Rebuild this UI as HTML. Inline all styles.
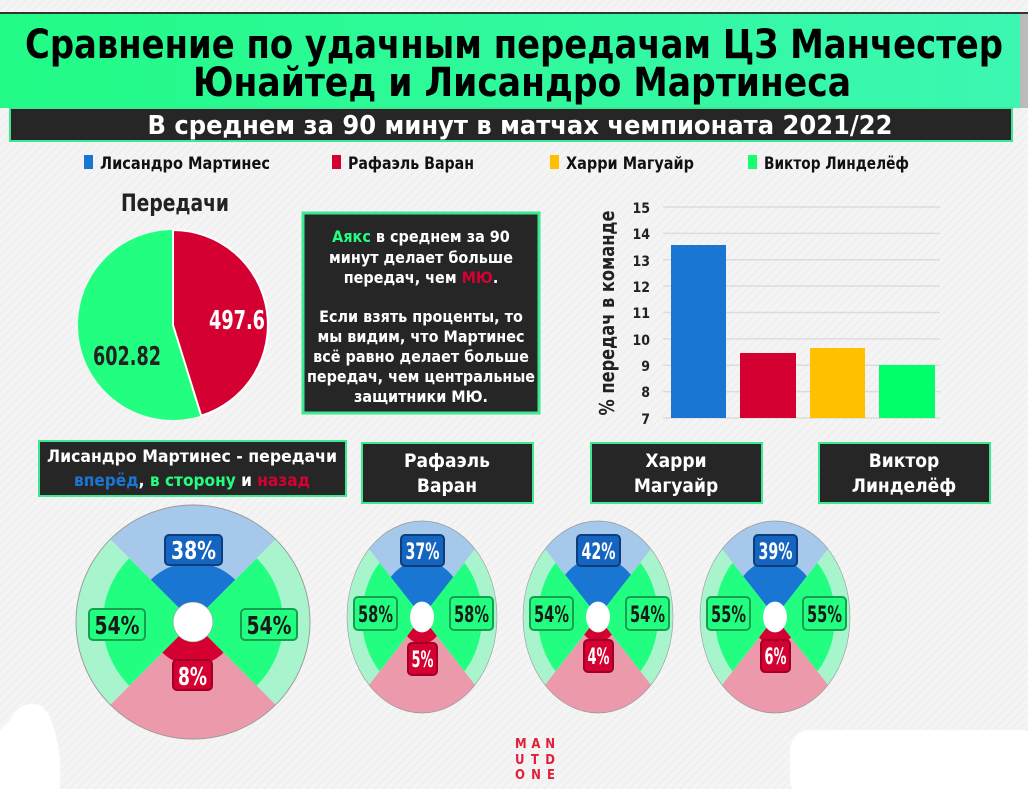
<!DOCTYPE html>
<html><head><meta charset="utf-8"><style>
html,body{margin:0;padding:0;}
body{width:1028px;height:789px;overflow:hidden;background:#f3f3f3;}
svg{display:block;}
text{font-family:"Liberation Sans Narrow","DejaVu Sans Condensed","Liberation Sans",sans-serif;font-weight:bold;}
</style></head><body>
<svg width="1028" height="789" viewBox="0 0 1028 789" xmlns="http://www.w3.org/2000/svg">
<defs>
<pattern id="hatch" width="6" height="6" patternUnits="userSpaceOnUse" patternTransform="rotate(45)">
<rect width="6" height="6" fill="#f4f4f4"/><line x1="0" y1="0" x2="0" y2="6" stroke="#ececec" stroke-width="2"/>
</pattern>
<linearGradient id="hg" x1="0" x2="1" y1="0" y2="0"><stop offset="0" stop-color="#22fb86"/><stop offset="1" stop-color="#3cf7b2"/></linearGradient>
<g id="outer">
<path d="M0 0L-70.71 -70.71A100 100 0 0 1 70.71 -70.71Z" fill="#a6c8ea"/>
<path d="M0 0L70.71 -70.71A100 100 0 0 1 70.71 70.71Z" fill="#a8f5cd"/>
<path d="M0 0L70.71 70.71A100 100 0 0 1 -70.71 70.71Z" fill="#ec9aab"/>
<path d="M0 0L-70.71 70.71A100 100 0 0 1 -70.71 -70.71Z" fill="#a8f5cd"/>
<circle r="100" fill="none" stroke="#999" stroke-width="0.8"/>
</g>
</defs>
<rect width="1028" height="789" fill="url(#hatch)"/>
<path d="M10 720 Q20 700 40 705 Q55 715 60 760 L60 789 L0 789 L0 730Z" fill="#fff"/>
<rect x="790" y="730" width="250" height="70" rx="20" fill="#fff"/>

<rect x="0" y="12" width="1028" height="3" fill="#333"/>
<rect x="0" y="14" width="1022" height="94" fill="url(#hg)"/>
<rect x="1020" y="14" width="8" height="94" fill="#bbb"/>
<text x="514" y="58" text-anchor="middle" font-size="40" fill="#000" textLength="978" lengthAdjust="spacingAndGlyphs">Сравнение по удачным передачам ЦЗ Манчестер</text>
<text x="522" y="96" text-anchor="middle" font-size="40" fill="#000" textLength="658" lengthAdjust="spacingAndGlyphs">Юнайтед и Лисандро Мартинеса</text>
<rect x="10" y="108" width="1002" height="33" fill="#262626" stroke="#3de890" stroke-width="2"/>
<text x="520" y="134" text-anchor="middle" font-size="26" fill="#fff" textLength="745" lengthAdjust="spacingAndGlyphs">В среднем за 90 минут в матчах чемпионата 2021/22</text>

<rect x="84" y="155" width="9" height="14" fill="#1976d2"/>
<text x="100" y="169" font-size="17" fill="#111" textLength="170" lengthAdjust="spacingAndGlyphs">Лисандро Мартинес</text>
<rect x="332" y="155" width="9" height="14" fill="#d50032"/>
<text x="348" y="169" font-size="17" fill="#111" textLength="126" lengthAdjust="spacingAndGlyphs">Рафаэль Варан</text>
<rect x="550" y="155" width="9" height="14" fill="#ffc000"/>
<text x="566" y="169" font-size="17" fill="#111" textLength="128" lengthAdjust="spacingAndGlyphs">Харри Магуайр</text>
<rect x="748" y="155" width="9" height="14" fill="#18ff6d"/>
<text x="764" y="169" font-size="17" fill="#111" textLength="145" lengthAdjust="spacingAndGlyphs">Виктор Линделёф</text>

<text x="175" y="211" text-anchor="middle" font-size="24" fill="#222" textLength="108" lengthAdjust="spacingAndGlyphs">Передачи</text>
<circle cx="173" cy="325" r="95" fill="#22ff80"/>
<path d="M173 325 L173 230 A95 95 0 0 1 201.2 415.7 Z" fill="#d50032" stroke="#fff" stroke-width="2"/>
<text x="237" y="329" text-anchor="middle" font-size="26" fill="#fff" textLength="56" lengthAdjust="spacingAndGlyphs">497.6</text>
<text x="127" y="365" text-anchor="middle" font-size="26" fill="#222" textLength="68" lengthAdjust="spacingAndGlyphs">602.82</text>

<rect x="303" y="213" width="236" height="200" fill="#262626" stroke="#3de890" stroke-width="3"/>
<g font-size="16" fill="#fff" text-anchor="middle">
<text x="421" y="242"><tspan fill="#22ff80">Аякс</tspan> в среднем за 90</text>
<text x="421" y="263">минут делает больше</text>
<text x="421" y="283">передач, чем <tspan fill="#d50032">МЮ</tspan>.</text>
<text x="421" y="322">Если взять проценты, то</text>
<text x="421" y="342">мы видим, что Мартинес</text>
<text x="421" y="362">всё равно делает больше</text>
<text x="421" y="382" textLength="228" lengthAdjust="spacingAndGlyphs">передач, чем центральные</text>
<text x="421" y="402">защитники МЮ.</text>
</g>

<g stroke="#dcdcdc" stroke-width="1.5">
<line x1="663" y1="207" x2="940" y2="207"/><line x1="663" y1="233.4" x2="940" y2="233.4"/>
<line x1="663" y1="259.8" x2="940" y2="259.8"/><line x1="663" y1="286.1" x2="940" y2="286.1"/>
<line x1="663" y1="312.5" x2="940" y2="312.5"/><line x1="663" y1="338.9" x2="940" y2="338.9"/>
<line x1="663" y1="365.3" x2="940" y2="365.3"/><line x1="663" y1="391.6" x2="940" y2="391.6"/>
<line x1="663" y1="418" x2="940" y2="418"/>
</g>
<g font-size="14" fill="#222" text-anchor="end">
<text x="650" y="213">15</text><text x="650" y="239">14</text><text x="650" y="266">13</text>
<text x="650" y="292">12</text><text x="650" y="318">11</text><text x="650" y="345">10</text>
<text x="650" y="371">9</text><text x="650" y="397">8</text><text x="650" y="424">7</text>
</g>
<text transform="translate(614,313) rotate(-90)" text-anchor="middle" font-size="20" fill="#222" textLength="205" lengthAdjust="spacingAndGlyphs">% передач в команде</text>
<rect x="671" y="245" width="55" height="173" fill="#1976d2"/>
<rect x="740" y="353" width="56" height="65" fill="#d50032"/>
<rect x="810" y="348" width="55" height="70" fill="#ffc000"/>
<rect x="879" y="365" width="56" height="53" fill="#00ff68"/>

<rect x="39" y="441" width="307" height="55" fill="#262626" stroke="#3de890" stroke-width="2"/>
<text x="192" y="462" text-anchor="middle" font-size="17" fill="#fff" textLength="290" lengthAdjust="spacingAndGlyphs">Лисандро Мартинес - передачи</text>
<text x="192" y="486" text-anchor="middle" font-size="17" fill="#fff" textLength="236" lengthAdjust="spacingAndGlyphs"><tspan fill="#1976d2">вперёд</tspan>, <tspan fill="#22ff80">в сторону</tspan> и <tspan fill="#d50032">назад</tspan></text>
<g font-size="19" fill="#fff" text-anchor="middle">
<rect x="362" y="443" width="171" height="60" fill="#262626" stroke="#3de890" stroke-width="2"/>
<text x="447" y="467">Рафаэль</text><text x="447" y="492">Варан</text>
<rect x="591" y="443" width="171" height="60" fill="#262626" stroke="#3de890" stroke-width="2"/>
<text x="676" y="467">Харри</text><text x="676" y="492">Магуайр</text>
<rect x="819" y="443" width="171" height="60" fill="#262626" stroke="#3de890" stroke-width="2"/>
<text x="904" y="467">Виктор</text><text x="904" y="492">Линделёф</text>
</g>

<g transform="translate(193,622) scale(1.17)">
<use href="#outer"/>
<path d="M0 0L-36.06 -36.06A51 51 0 0 1 36.06 -36.06Z" fill="#1976d2"/>
<path d="M0 0L54.45 -54.45A77 77 0 0 1 54.45 54.45Z" fill="#22ff80"/>
<path d="M0 0L-54.45 54.45A77 77 0 0 1 -54.45 -54.45Z" fill="#22ff80"/>
<path d="M0 0L26.16 26.16A37 37 0 0 1 -26.16 26.16Z" fill="#d50032"/>
<circle r="17" fill="#fff" stroke="#999" stroke-width="0.5"/>
</g>
<g transform="translate(422,617) scale(0.75,0.96)">
<use href="#outer"/>
<path d="M0 0L-41.72 -41.72A59 59 0 0 1 41.72 -41.72Z" fill="#1976d2"/>
<path d="M0 0L56.57 -56.57A80 80 0 0 1 56.57 56.57Z" fill="#22ff80"/>
<path d="M0 0L-56.57 56.57A80 80 0 0 1 -56.57 -56.57Z" fill="#22ff80"/>
<path d="M0 0L19.8 19.8A28 28 0 0 1 -19.8 19.8Z" fill="#d50032"/>
<circle r="16" fill="#fff"/>
</g>
<g transform="translate(598,617) scale(0.75,0.96)">
<use href="#outer"/>
<path d="M0 0L-43.84 -43.84A62 62 0 0 1 43.84 -43.84Z" fill="#1976d2"/>
<path d="M0 0L56.57 -56.57A80 80 0 0 1 56.57 56.57Z" fill="#22ff80"/>
<path d="M0 0L-56.57 56.57A80 80 0 0 1 -56.57 -56.57Z" fill="#22ff80"/>
<path d="M0 0L18.38 18.38A26 26 0 0 1 -18.38 18.38Z" fill="#d50032"/>
<circle r="16" fill="#fff"/>
</g>
<g transform="translate(775,617) scale(0.75,0.96)">
<use href="#outer"/>
<path d="M0 0L-42.43 -42.43A60 60 0 0 1 42.43 -42.43Z" fill="#1976d2"/>
<path d="M0 0L56.57 -56.57A80 80 0 0 1 56.57 56.57Z" fill="#22ff80"/>
<path d="M0 0L-56.57 56.57A80 80 0 0 1 -56.57 -56.57Z" fill="#22ff80"/>
<path d="M0 0L21.21 21.21A30 30 0 0 1 -21.21 21.21Z" fill="#d50032"/>
<circle r="16" fill="#fff"/>
</g>

<g text-anchor="middle">
<rect x="165" y="535" width="57" height="30" rx="4" fill="#1565c0" stroke="#0d3d7a" stroke-width="2"/>
<text x="193.5" y="559" font-size="25" fill="#fff" textLength="45" lengthAdjust="spacingAndGlyphs">38%</text>
<rect x="89" y="609" width="56" height="31" rx="4" fill="#22ff80" stroke="#15a050" stroke-width="2"/>
<text x="117" y="634" font-size="25" fill="#1a1a1a" textLength="45" lengthAdjust="spacingAndGlyphs">54%</text>
<rect x="241" y="609" width="56" height="31" rx="4" fill="#22ff80" stroke="#15a050" stroke-width="2"/>
<text x="269" y="634" font-size="25" fill="#1a1a1a" textLength="45" lengthAdjust="spacingAndGlyphs">54%</text>
<rect x="173" y="660" width="39" height="30" rx="4" fill="#d50032" stroke="#a00025" stroke-width="2"/>
<text x="192.5" y="685" font-size="25" fill="#fff" textLength="29" lengthAdjust="spacingAndGlyphs">8%</text>

<rect x="401" y="535" width="43" height="31" rx="4" fill="#1565c0" stroke="#0d3d7a" stroke-width="2"/>
<text x="422.5" y="559" font-size="22" fill="#fff" textLength="34" lengthAdjust="spacingAndGlyphs">37%</text>
<rect x="354" y="597" width="43" height="33" rx="4" fill="#22ff80" stroke="#15a050" stroke-width="2"/>
<text x="375.5" y="622" font-size="22" fill="#1a1a1a" textLength="35" lengthAdjust="spacingAndGlyphs">58%</text>
<rect x="450" y="597" width="43" height="33" rx="4" fill="#22ff80" stroke="#15a050" stroke-width="2"/>
<text x="471.5" y="622" font-size="22" fill="#1a1a1a" textLength="35" lengthAdjust="spacingAndGlyphs">58%</text>
<rect x="408" y="643" width="29" height="32" rx="4" fill="#d50032" stroke="#a00025" stroke-width="2"/>
<text x="422.5" y="667" font-size="22" fill="#fff" textLength="22" lengthAdjust="spacingAndGlyphs">5%</text>

<rect x="577" y="535" width="43" height="31" rx="4" fill="#1565c0" stroke="#0d3d7a" stroke-width="2"/>
<text x="598.5" y="559" font-size="22" fill="#fff" textLength="34" lengthAdjust="spacingAndGlyphs">42%</text>
<rect x="530" y="597" width="43" height="33" rx="4" fill="#22ff80" stroke="#15a050" stroke-width="2"/>
<text x="551.5" y="622" font-size="22" fill="#1a1a1a" textLength="35" lengthAdjust="spacingAndGlyphs">54%</text>
<rect x="626" y="597" width="43" height="33" rx="4" fill="#22ff80" stroke="#15a050" stroke-width="2"/>
<text x="647.5" y="622" font-size="22" fill="#1a1a1a" textLength="35" lengthAdjust="spacingAndGlyphs">54%</text>
<rect x="584" y="640" width="29" height="32" rx="4" fill="#d50032" stroke="#a00025" stroke-width="2"/>
<text x="598.5" y="664" font-size="22" fill="#fff" textLength="22" lengthAdjust="spacingAndGlyphs">4%</text>

<rect x="754" y="535" width="43" height="31" rx="4" fill="#1565c0" stroke="#0d3d7a" stroke-width="2"/>
<text x="775.5" y="559" font-size="22" fill="#fff" textLength="34" lengthAdjust="spacingAndGlyphs">39%</text>
<rect x="707" y="597" width="43" height="33" rx="4" fill="#22ff80" stroke="#15a050" stroke-width="2"/>
<text x="728.5" y="622" font-size="22" fill="#1a1a1a" textLength="35" lengthAdjust="spacingAndGlyphs">55%</text>
<rect x="803" y="597" width="43" height="33" rx="4" fill="#22ff80" stroke="#15a050" stroke-width="2"/>
<text x="824.5" y="622" font-size="22" fill="#1a1a1a" textLength="35" lengthAdjust="spacingAndGlyphs">55%</text>
<rect x="761" y="640" width="29" height="32" rx="4" fill="#d50032" stroke="#a00025" stroke-width="2"/>
<text x="775.5" y="664" font-size="22" fill="#fff" textLength="22" lengthAdjust="spacingAndGlyphs">6%</text>
</g>

<g font-size="13" fill="#e0203a" text-anchor="middle">
<text x="535" y="748" textLength="40" lengthAdjust="spacing">MAN</text>
<text x="535" y="764" textLength="40" lengthAdjust="spacing">UTD</text>
<text x="535" y="779" textLength="40" lengthAdjust="spacing">ONE</text>
</g>
</svg>
</body></html>
